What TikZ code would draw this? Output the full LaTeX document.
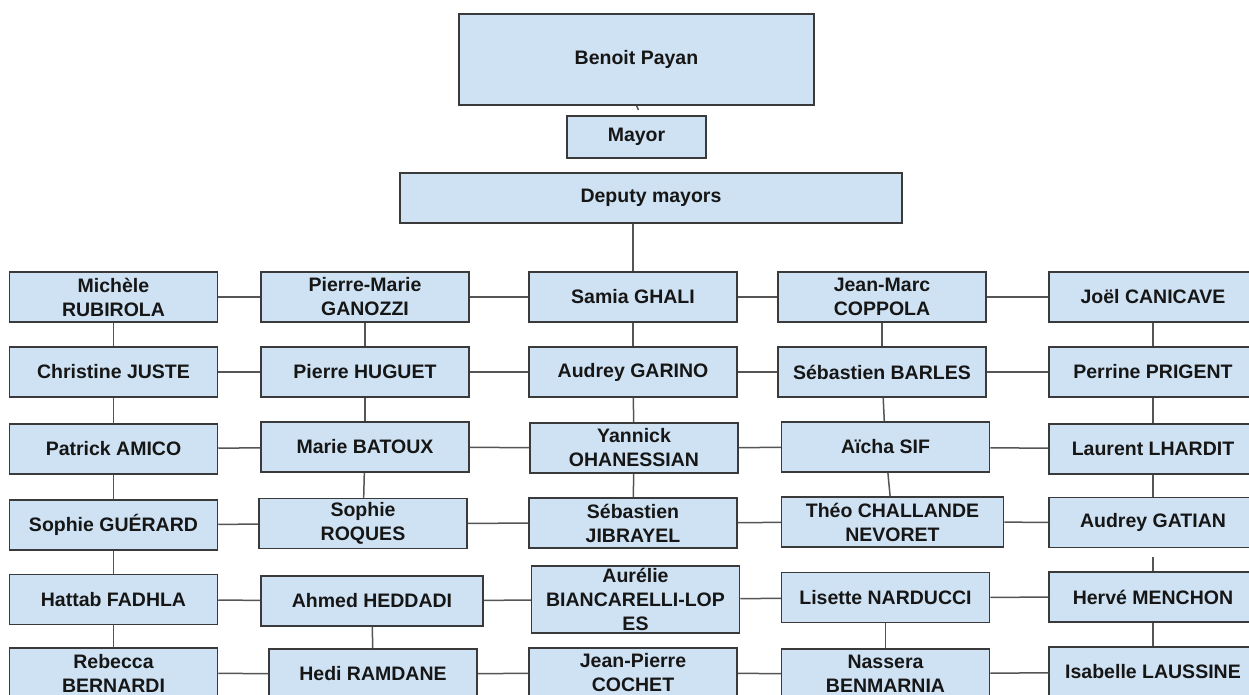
\documentclass[tikz,border=0pt]{standalone}
\usepackage{fontspec}
\setmainfont{Liberation Sans}
\usepackage{xcolor}
\definecolor{boxBack}  {HTML}{CFE2F3}
\definecolor{boxLine}  {HTML}{3A3A3A}
\definecolor{linkLine} {HTML}{555555}
\definecolor{nameInk}  {HTML}{161616}
\usetikzlibrary{positioning, calc}
\tikzset{
    member/.style={rectangle, draw=boxLine, fill=boxBack, line width=0.75pt,
                   minimum width=104pt, minimum height=25pt, inner sep=1pt,
                   align=center, text=nameInk,
                   font=\fontsize{9.75}{12}\selectfont\bfseries},
    widebox/.style={member, minimum width=111pt},
    link/.style={-, line width=0.75pt, linkLine},
}

\begin{document}
\begin{tikzpicture}[x=0.5pt, y=-0.5pt]
    \clip (0,0) rectangle (1249,695);
    % head of the council
    \node[member, minimum width=177.5pt, minimum height=45.5pt] (payan) at (636.5,59.5) {Benoit Payan};
    \node[member, minimum width=69.5pt, minimum height=21pt] (mayor) at (636.5,137) {Mayor};
    \node[member, minimum width=251pt] (deputies) at (651,198) {Deputy mayors};
    \coordinate (payanstub) at (638.5,110);
    \draw[link] (payan.south) -- (payanstub);

    % column 1
    \node[member] (rubirola) at (113.5,297) {Michèle\\RUBIROLA};
    \node[member] (juste)    at (113.5,372) {Christine JUSTE};
    \node[member] (amico)    at (113.5,449) {Patrick AMICO};
    \node[member] (guerard)  at (113.5,525) {Sophie GUÉRARD};
    \node[member] (fadhla)   at (113.5,599.5) {Hattab FADHLA};
    \node[member] (bernardi) at (113.5,673) {Rebecca\\BERNARDI};

    % column 2
    \node[member] (ganozzi)  at (365,297) {Pierre-Marie\\GANOZZI};
    \node[member] (huguet)   at (365,372) {Pierre HUGUET};
    \node[member] (batoux)   at (365,447) {Marie BATOUX};
    \node[member] (roques)   at (363,523.5) {Sophie\\ROQUES};
    \node[widebox] (heddadi) at (372,601) {Ahmed HEDDADI};
    \node[member] (ramdane)  at (373,674) {Hedi RAMDANE};

    % column 3
    \node[member] (ghali)    at (633,297) {Samia GHALI};
    \node[member] (garino)   at (633,372) {Audrey GARINO};
    \node[member] (ohanessian) at (634,448) {Yannick\\OHANESSIAN};
    \node[member] (jibrayel) at (633,523) {Sébastien\\JIBRAYEL};
    \node[member, minimum height=33.5pt] (biancarelli) at (635.5,599.5) {Aurélie\\BIANCARELLI-LOP\\ES};
    \node[member] (cochet)   at (633,673) {Jean-Pierre\\COCHET};

    % column 4
    \node[member] (coppola)  at (882,297) {Jean-Marc\\COPPOLA};
    \node[member] (barles)   at (882,372) {Sébastien BARLES};
    \node[member] (sif)      at (885.5,447) {Aïcha SIF};
    \node[widebox] (challande) at (892.5,522) {Théo CHALLANDE\\NEVORET};
    \node[member] (narducci) at (885.5,597.5) {Lisette NARDUCCI};
    \node[member] (benmarnia) at (885.5,674) {Nassera\\BENMARNIA};

    % column 5
    \node[member] (canicave) at (1153,297) {Joël CANICAVE};
    \node[member] (prigent)  at (1153,372) {Perrine PRIGENT};
    \node[member] (lhardit)  at (1153,449) {Laurent LHARDIT};
    \node[member] (gatian)   at (1153,522.5) {Audrey GATIAN};
    \node[member] (menchon)  at (1153,597) {Hervé MENCHON};
    \node[member] (laussine) at (1153,672) {Isabelle LAUSSINE};

    % rows
    \draw[link] (rubirola) -- (ganozzi);  \draw[link] (ganozzi) -- (ghali);
    \draw[link] (ghali) -- (coppola);     \draw[link] (coppola) -- (canicave);
    \draw[link] (juste) -- (huguet);      \draw[link] (huguet) -- (garino);
    \draw[link] (garino) -- (barles);     \draw[link] (barles) -- (prigent);
    \draw[link] (amico) -- (batoux);      \draw[link] (batoux) -- (ohanessian);
    \draw[link] (ohanessian) -- (sif);    \draw[link] (sif) -- (lhardit);
    \draw[link] (guerard) -- (roques);    \draw[link] (roques) -- (jibrayel);
    \draw[link] (jibrayel) -- (challande); \draw[link] (challande) -- (gatian);
    \draw[link] (fadhla) -- (heddadi);    \draw[link] (heddadi) -- (biancarelli);
    \draw[link] (biancarelli) -- (narducci); \draw[link] (narducci) -- (menchon);
    \draw[link] (bernardi) -- (ramdane);  \draw[link] (ramdane) -- (cochet);
    \draw[link] (cochet) -- (benmarnia);  \draw[link] (benmarnia) -- (laussine);

    % columns
    \draw[link] (deputies.south -| ghali.north) -- (ghali.north);
    \draw[link] (rubirola) -- (juste);    \draw[link] (juste) -- (amico);
    \draw[link] (amico) -- (guerard);     \draw[link] (guerard) -- (fadhla);
    \draw[link] (fadhla) -- (bernardi);
    \draw[link] (ganozzi) -- (huguet);    \draw[link] (huguet) -- (batoux);
    \draw[link] (batoux) -- (roques);     \draw[link] (heddadi) -- (ramdane);
    \draw[link] (ghali) -- (garino);      \draw[link] (garino) -- (ohanessian);
    \draw[link] (ohanessian) -- (jibrayel);
    \draw[link] (coppola) -- (barles);    \draw[link] (barles) -- (sif);
    \draw[link] (sif) -- (challande);     \draw[link] (narducci) -- (benmarnia);
    \draw[link] (canicave) -- (prigent);  \draw[link] (prigent) -- (lhardit);
    \draw[link] (lhardit) -- (gatian);    \draw[link] (menchon) -- (laussine);
    \coordinate (gatianstub) at (1153,557);
    \draw[link] (gatianstub) -- (menchon.north);
\end{tikzpicture}
\end{document}
